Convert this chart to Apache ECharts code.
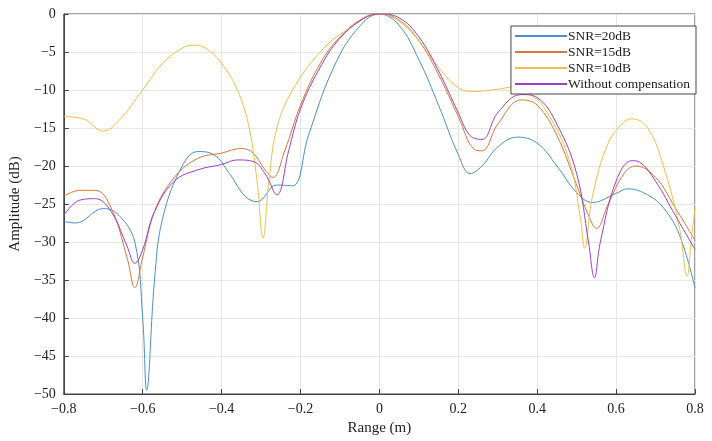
<!DOCTYPE html><html><head><meta charset="utf-8"><script src="https://cdn.jsdelivr.net/npm/echarts@6/dist/echarts.min.js"></script>
<style>html,body{margin:0;padding:0;background:#fff}#c{width:712px;height:441px}</style></head><body><div id="c"></div><script>
const seriesNames=['SNR=20dB','SNR=15dB','SNR=10dB','Without compensation'];
const snr20=[[-0.8,-27.3],[-0.77,-27.5],[-0.7,-25.6],[-0.66,-26.5],[-0.62,-30],[-0.6,-40],[-0.59,-49.5],[-0.57,-35],[-0.55,-27],[-0.5,-20],[-0.46,-18.1],[-0.42,-18.5],[-0.38,-21],[-0.34,-24],[-0.31,-24.7],[-0.26,-22.5],[-0.22,-22.6],[-0.18,-16],[-0.12,-7.5],[-0.06,-2.2],[0,0],[0.05,-1.5],[0.1,-6],[0.15,-12],[0.2,-18.5],[0.23,-21],[0.26,-20],[0.3,-17.5],[0.35,-16.2],[0.4,-17],[0.45,-20],[0.5,-23.5],[0.54,-24.8],[0.6,-23.6],[0.63,-23],[0.68,-23.8],[0.72,-25.5],[0.76,-29],[0.8,-36]];
const snr15=[[-0.8,-24],[-0.76,-23.2],[-0.72,-23.2],[-0.68,-25.5],[-0.64,-32],[-0.62,-36],[-0.6,-32],[-0.57,-26],[-0.52,-21.5],[-0.46,-19],[-0.4,-18.3],[-0.35,-17.7],[-0.32,-18.3],[-0.29,-20.5],[-0.27,-21.5],[-0.24,-18],[-0.2,-12],[-0.15,-6.5],[-0.1,-3],[-0.04,-0.5],[0,0],[0.05,-0.8],[0.1,-3.5],[0.15,-8],[0.2,-13.5],[0.24,-17.8],[0.26,-18],[0.3,-14.5],[0.36,-11.3],[0.4,-12],[0.45,-16],[0.5,-22.5],[0.53,-26.5],[0.55,-28.2],[0.58,-25],[0.62,-21],[0.65,-20],[0.7,-21.5],[0.75,-25.5],[0.8,-29.8]];
const snr10=[[-0.8,-13.5],[-0.75,-13.8],[-0.7,-15.4],[-0.66,-14],[-0.6,-10],[-0.55,-6.5],[-0.5,-4.5],[-0.47,-4.1],[-0.44,-4.5],[-0.4,-6.5],[-0.36,-10],[-0.33,-15],[-0.31,-22],[-0.295,-29.5],[-0.28,-22],[-0.26,-15],[-0.22,-10],[-0.15,-5],[-0.08,-2],[0,0],[0.05,-1],[0.1,-3.5],[0.15,-7],[0.2,-9.7],[0.24,-10.2],[0.3,-9.9],[0.34,-9.6],[0.38,-10.5],[0.42,-12.5],[0.48,-19],[0.51,-27],[0.52,-30.8],[0.54,-24],[0.58,-17],[0.62,-14.2],[0.64,-13.8],[0.68,-15],[0.72,-20],[0.76,-28],[0.78,-34.5],[0.79,-30],[0.8,-25.5]];
const noComp=[[-0.8,-26.5],[-0.76,-24.5],[-0.72,-24.3],[-0.68,-26],[-0.64,-30.5],[-0.62,-32.8],[-0.6,-31],[-0.57,-26],[-0.52,-22],[-0.46,-20.5],[-0.4,-19.8],[-0.36,-19.2],[-0.32,-19.4],[-0.29,-21],[-0.26,-23.8],[-0.23,-18],[-0.2,-12.5],[-0.15,-7],[-0.1,-3.2],[-0.04,-0.6],[0,0],[0.05,-0.5],[0.1,-3],[0.15,-7.5],[0.2,-13],[0.23,-16],[0.26,-16.5],[0.3,-13],[0.36,-10.6],[0.4,-11],[0.45,-14.5],[0.5,-21],[0.53,-30],[0.545,-34.7],[0.56,-30],[0.6,-22],[0.64,-19.3],[0.66,-19.5],[0.7,-22],[0.75,-26.5],[0.8,-31]];
const colors=['#4a90c8','#d6773e','#edc04a','#9b40c8'];
const allData=[snr20,snr15,snr10,noComp];
const font='Liberation Serif';
const ch=echarts.init(document.getElementById('c'));
const ax={axisLine:{show:true,onZero:false,lineStyle:{color:'#444'}},axisTick:{show:true,inside:true,lineStyle:{color:'#444'}},axisLabel:{color:'#222',fontFamily:font,fontSize:14},splitLine:{show:true,lineStyle:{color:'#e6e6e6'}},nameTextStyle:{color:'#222',fontFamily:font,fontSize:15}};
ch.setOption({animation:false,
grid:{left:52,right:17,top:14,bottom:47,show:true,borderColor:'#444',borderWidth:1},
legend:{right:16,top:26,orient:'vertical',itemWidth:52,itemHeight:2,itemGap:2,icon:'rect',backgroundColor:'#fff',borderColor:'#444',borderWidth:1,padding:[3,6,3,4],textStyle:{fontFamily:font,fontSize:13.5,color:'#222',padding:[0,0,0,-4]},data:seriesNames},
xAxis:Object.assign({type:'value',min:-0.8,max:0.8,interval:0.2,name:'Range (m)',nameLocation:'middle',nameGap:24,axisLabel:Object.assign({},ax.axisLabel,{formatter:v=>Math.abs(v)<1e-9?'0':String(Math.round(v*10)/10).replace('-','\u2212')})},{axisLine:ax.axisLine,axisTick:ax.axisTick,splitLine:ax.splitLine,nameTextStyle:ax.nameTextStyle}),
yAxis:Object.assign({type:'value',min:-50,max:0,interval:5,name:'Amplitude (dB)',nameLocation:'middle',nameGap:33,axisLabel:Object.assign({},ax.axisLabel,{formatter:v=>String(v).replace('-','\u2212')})},{axisLine:ax.axisLine,axisTick:ax.axisTick,splitLine:ax.splitLine,nameTextStyle:ax.nameTextStyle}),
series:allData.map((d,i)=>({name:seriesNames[i],type:'line',data:d,smooth:0.4,showSymbol:false,lineStyle:{width:1,color:colors[i]},itemStyle:{color:colors[i]}}))
});
</script></body></html>
